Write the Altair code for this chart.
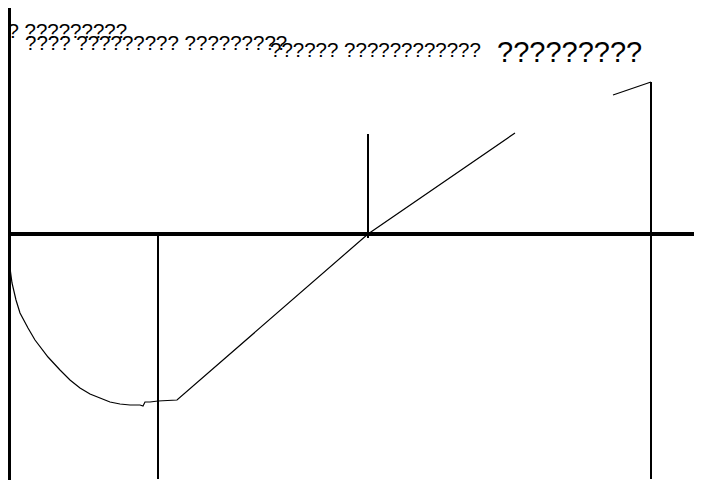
import altair as alt
import pandas as pd

# curve (x, y); y = 0 is the thick horizontal line
curve_x = [0, 2, 4, 8, 12, 20, 27, 40, 52, 62, 72, 82, 92, 102, 112, 122, 132, 135, 137, 142, 150, 169, 360, 507]
curve_y = [-16, -34, -49, -66, -79, -94, -106, -123, -136, -146, -154, -160, -164, -168, -170, -171, -171, -172, -168, -168, -167, -166, 0, 101]
tail_x = [605, 643]
tail_y = [139, 152]

# vertical rules
vrule_x = [1, 150, 360, 643]
vrule_top = [227, 0, 100, 152]
vrule_bot = [-250, -245, -4, -245]
vrule_w = [4, 2, 2, 2]

# horizontal rule
hrule_x = [0]
hrule_x2 = [700]
hrule_y = [0]
hrule_w = [4]

# texts
texts = ["?? ?????????", "???? ????????? ?????????", "?????? ????????????", "?????????"]
text_x = [-12, 17, 262, 489]
text_y = [196, 184, 177, 172]
text_size = [20.5, 20.5, 20.5, 29]

xs = alt.Scale(domain=[0, 686], nice=False, zero=False)
ys = alt.Scale(domain=[-246, 226], nice=False, zero=False)

lines_df = pd.DataFrame({
    "x": curve_x + tail_x,
    "y": curve_y + tail_y,
    "seg": ["a"] * len(curve_x) + ["b"] * len(tail_x),
    "i": list(range(len(curve_x))) + list(range(len(tail_x))),
})
vr_df = pd.DataFrame({"x": vrule_x, "y": vrule_top, "y2": vrule_bot, "w": vrule_w})
hr_df = pd.DataFrame({"x": hrule_x, "x2": hrule_x2, "y": hrule_y, "w": hrule_w})
tx_df = pd.DataFrame({"t": texts, "x": text_x, "y": text_y, "s": text_size})

lines = alt.Chart(lines_df).mark_line(color="black", strokeWidth=1.2, clip=False).encode(
    x=alt.X("x:Q", scale=xs, axis=None),
    y=alt.Y("y:Q", scale=ys, axis=None),
    detail="seg:N",
    order="i:Q",
)
vr = alt.Chart(vr_df).mark_rule(color="black").encode(
    x=alt.X("x:Q", scale=xs, axis=None),
    y=alt.Y("y:Q", scale=ys, axis=None),
    y2="y2:Q",
    strokeWidth=alt.StrokeWidth("w:Q", scale=None),
)
hr = alt.Chart(hr_df).mark_rule(color="black").encode(
    x=alt.X("x:Q", scale=xs, axis=None),
    x2="x2:Q",
    y=alt.Y("y:Q", scale=ys, axis=None),
    strokeWidth=alt.StrokeWidth("w:Q", scale=None),
)
tx = alt.Chart(tx_df).mark_text(align="left", baseline="alphabetic", font="Liberation Sans", color="black").encode(
    x=alt.X("x:Q", scale=xs, axis=None),
    y=alt.Y("y:Q", scale=ys, axis=None),
    text="t:N",
    size=alt.Size("s:Q", scale=None),
)

chart = alt.layer(lines, vr, hr, tx).properties(
    width=686, height=472, padding=0, autosize=alt.AutoSizeParams(type="none")
).configure_view(stroke=None)

chart.save("out.html", embed_options={"renderer": "svg", "actions": False})
